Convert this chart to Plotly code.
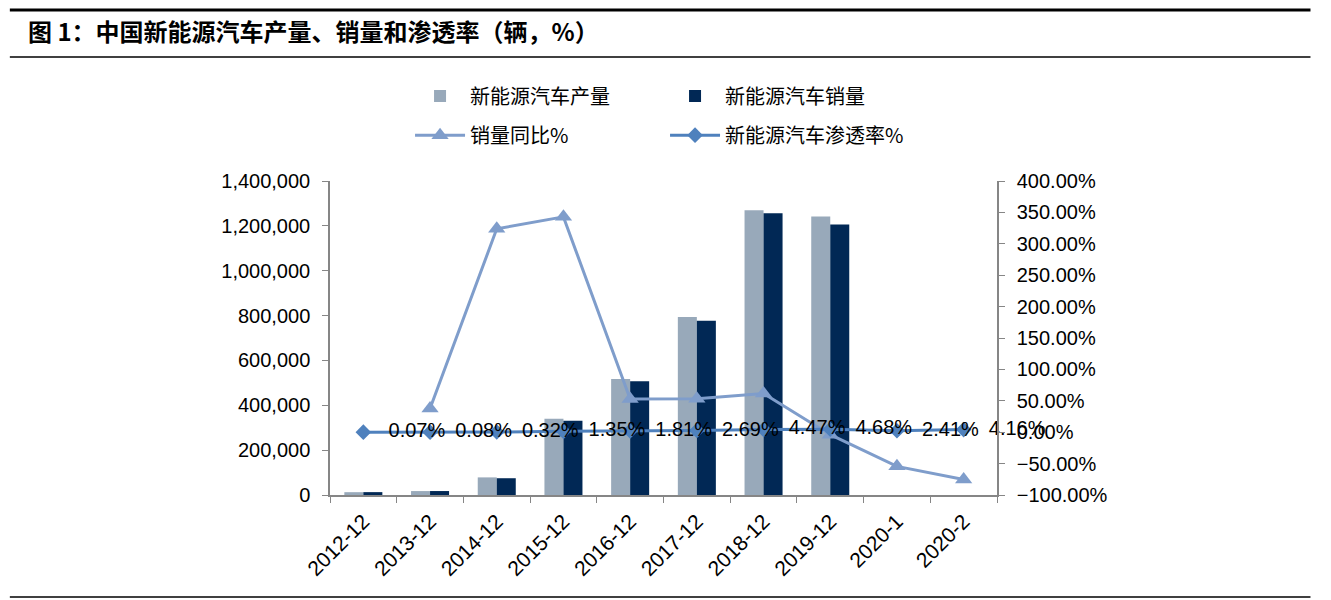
import plotly.graph_objects as go

categories = ["2012-12", "2013-12", "2014-12", "2015-12", "2016-12",
              "2017-12", "2018-12", "2019-12", "2020-1", "2020-2"]
production = [12552, 17533, 78499, 340471, 517000, 794000, 1270000, 1242000, None, None]
sales = [12791, 17642, 74763, 331092, 507000, 777000, 1256000, 1206000, None, None]
sales_yoy = [None, 37.9, 323.8, 342.9, 53.0, 53.3, 61.7, -4.0, -54.4, -75.2]
penetration = [0.07, 0.08, 0.32, 1.35, 1.81, 2.69, 4.47, 4.68, 2.41, 4.16]
pen_labels = ["\u00a0\u00a0\u00a0" + f"{v:.2f}%" for v in penetration]

title_text = "图 1：中国新能源汽车产量、销量和渗透率（辆，%）"

CJK = "Noto Sans CJK SC"
LAT = "Liberation Sans, Arial"

fig = go.Figure()
fig.add_trace(go.Bar(x=categories, y=production, name="新能源汽车产量",
                     marker=dict(color="#98A9BA", line=dict(width=0)),
                     legend="legend"))
fig.add_trace(go.Bar(x=categories, y=sales, name="新能源汽车销量",
                     marker=dict(color="#012855", line=dict(width=0)),
                     legend="legend"))
fig.add_trace(go.Scatter(x=categories, y=sales_yoy, name="销量同比%", yaxis="y2",
                         mode="lines+markers",
                         line=dict(color="#7F9DCB", width=3),
                         marker=dict(symbol="triangle-up", size=15, color="#7F9DCB"),
                         legend="legend2"))
fig.add_trace(go.Scatter(x=categories, y=penetration, name="新能源汽车渗透率%", yaxis="y2",
                         mode="lines+markers+text", text=pen_labels,
                         textposition="middle right", cliponaxis=False,
                         textfont=dict(family=LAT, size=20, color="#000000"),
                         line=dict(color="#4F81BD", width=3),
                         marker=dict(symbol="diamond", size=12, color="#4F81BD"),
                         legend="legend2"))

axis_col = "#868686"
fig.update_layout(
    width=1331, height=600,
    margin=dict(l=330, r=334, t=181, b=105),
    paper_bgcolor="white", plot_bgcolor="white",
    barmode="group", bargap=0.43, bargroupgap=0.0,
    font=dict(family=LAT, size=20, color="#000000"),
    title=dict(text=title_text, xref="container", yref="container",
               x=28/1331, xanchor="left", y=1-33/600, yanchor="middle",
               font=dict(family=CJK, size=24, color="#000000", weight="bold")),
    xaxis=dict(type="category", range=[-0.5, len(categories) - 0.5],
               tickangle=-45, showline=True, linecolor=axis_col,
               linewidth=1.5, ticks="outside", tickson="boundaries", ticklen=6,
               tickcolor=axis_col, showgrid=False, ticklabelstandoff=4,
               tickfont=dict(family=LAT, size=21)),
    yaxis=dict(range=[0, 1400000], dtick=200000, tickformat=",d", showline=True,
               linecolor=axis_col, linewidth=1.5, ticks="outside", ticklen=6,
               tickcolor=axis_col, showgrid=False, zeroline=False,
               ticklabelstandoff=8, tickfont=dict(family=LAT, size=20)),
    yaxis2=dict(range=[-100, 400], dtick=50, tickformat=".2f", ticksuffix="%",
                overlaying="y", side="right", showline=True, linecolor=axis_col,
                linewidth=1.5, ticks="outside", ticklen=6, tickcolor=axis_col,
                showgrid=False, zeroline=False, ticklabelstandoff=8,
                tickfont=dict(family=LAT, size=20)),
    legend=dict(orientation="h", x=0.12, xanchor="left", y=1.271, yanchor="middle",
                entrywidth=190, entrywidthmode="pixels", itemwidth=50,
                font=dict(family=CJK, size=20), bgcolor="rgba(0,0,0,0)"),
    legend2=dict(orientation="h", x=0.12, xanchor="left", y=1.146, yanchor="middle",
                 entrywidth=190, entrywidthmode="pixels", itemwidth=50,
                 font=dict(family=CJK, size=20), bgcolor="rgba(0,0,0,0)"),
    showlegend=True,
)

# horizontal rules of the report frame
fig.add_shape(type="line", xref="paper", yref="paper",
              x0=-0.48, x1=1.47, y0=1.5446, y1=1.5446,
              line=dict(color="black", width=3))
fig.add_shape(type="line", xref="paper", yref="paper",
              x0=-0.48, x1=1.47, y0=1.3949, y1=1.3949,
              line=dict(color="black", width=1.5))
fig.add_shape(type="line", xref="paper", yref="paper",
              x0=-0.48, x1=1.47, y0=-0.3248, y1=-0.3248,
              line=dict(color="black", width=1.5))

fig.write_html("out.html", config={"displayModeBar": False},
               post_script="document.body.style.margin='0';document.body.style.padding='0';")
